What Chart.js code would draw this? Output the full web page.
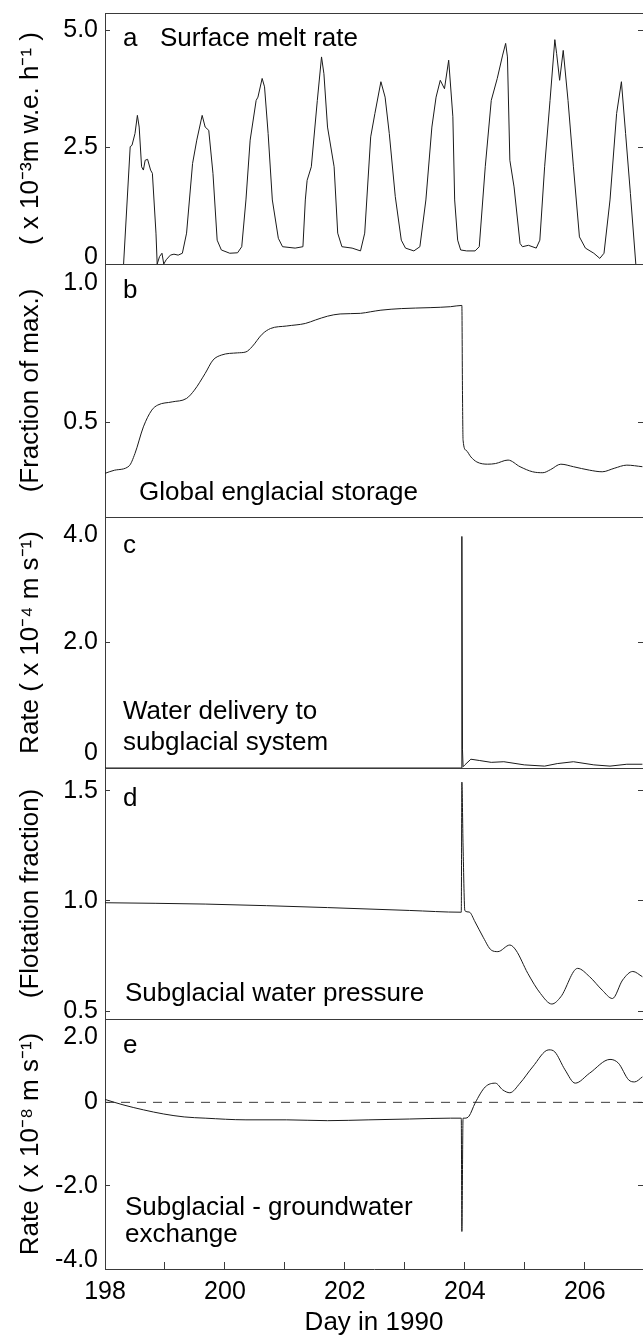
<!DOCTYPE html>
<html>
<head>
<meta charset="utf-8">
<script src="https://cdn.jsdelivr.net/npm/chart.js@4"></script>
<style>
  html, body { margin: 0; padding: 0; background: #fff; overflow: hidden; }
  #fig { position: relative; width: 643px; height: 1337px; }
  #fig canvas { position: absolute; left: 0; }
</style>
</head>
<body>
<div id="fig">
  <canvas id="panelA" width="643" height="284" style="top:0px;width:643px;height:284px"></canvas>
  <canvas id="panelB" width="643" height="293" style="top:244px;width:643px;height:293px"></canvas>
  <canvas id="panelC" width="643" height="291" style="top:497px;width:643px;height:291px"></canvas>
  <canvas id="panelD" width="643" height="291" style="top:748px;width:643px;height:291px"></canvas>
  <canvas id="panelE" width="643" height="338" style="top:999px;width:643px;height:338px"></canvas>
</div>
<script>
// ---- data (day of year 1990) ----
const dayTicks = [198, 199, 200, 201, 202, 203, 204, 205, 206];

// a: surface melt rate (x 10^-3 m w.e. h^-1)
const meltDay = [198.31,198.42,198.45,198.5,198.54,198.57,198.61,198.64,198.67,198.71,
  198.76,198.79,198.85,198.87,198.91,198.95,198.98,199.02,199.09,199.15,
  199.22,199.29,199.36,199.46,199.53,199.62,199.67,199.73,199.8,199.87,
  199.94,200.08,200.21,200.28,200.35,200.42,200.52,200.55,200.62,200.66,
  200.72,200.79,200.89,200.96,201.17,201.3,201.34,201.37,201.44,201.54,
  201.61,201.65,201.71,201.82,201.88,201.95,202.12,202.26,202.33,202.43,
  202.5,202.6,202.67,202.74,202.84,202.94,203.01,203.15,203.25,203.35,
  203.45,203.52,203.59,203.66,203.73,203.8,203.83,203.88,203.93,204.03,
  204.17,204.24,204.34,204.44,204.54,204.63,204.68,204.71,204.75,204.82,
  204.92,204.96,205.06,205.19,205.25,205.33,205.42,205.5,205.53,205.58,
  205.64,205.72,205.81,205.91,206.01,206.15,206.25,206.32,206.42,206.53,
  206.61,206.68,206.76,206.85];
const meltRate = [0,2.51,2.54,2.79,3.18,2.93,2.08,2.01,2.22,2.24,
  2.01,1.94,0.66,0,0.16,0.23,0,0.09,0.19,0.21,
  0.19,0.23,0.66,2.15,2.65,3.18,2.93,2.86,1.94,0.51,
  0.3,0.23,0.24,0.37,1.37,2.65,3.5,3.57,3.97,3.79,
  2.79,1.37,0.55,0.37,0.34,0.37,1.37,1.79,2.08,3.5,
  4.43,4.07,2.93,2.08,0.66,0.37,0.34,0.28,0.66,2.72,
  3.22,3.9,3.57,2.79,1.44,0.51,0.34,0.28,0.37,1.37,
  2.93,3.57,3.93,3.75,4.36,3.15,1.37,0.51,0.3,0.28,
  0.28,0.37,2.08,3.5,3.97,4.47,4.72,4.43,2.22,1.65,
  0.44,0.37,0.4,0.34,0.51,2.08,3.5,4.8,4.5,3.93,
  4.57,3.5,2.08,0.58,0.34,0.23,0.12,0.23,1.37,3.22,
  3.9,2.79,1.51,0];

// b: global englacial storage (fraction of max.)
const storageDay = [198,198.16,198.4,198.5,198.64,198.78,198.88,199.12,199.36,199.49,
  199.67,199.8,199.94,200.21,200.35,200.45,200.62,200.76,201.03,201.34,
  201.51,201.71,201.92,202.26,202.43,202.6,202.94,203.42,203.76,203.95,
  203.96,203.97,204.02,204.1,204.2,204.38,204.51,204.72,204.92,205.13,
  205.3,205.43,205.6,205.81,206.08,206.29,206.49,206.7,206.96];
const storageFrac = [0.338,0.348,0.361,0.401,0.485,0.538,0.554,0.564,0.575,0.601,
  0.654,0.696,0.712,0.719,0.722,0.738,0.778,0.796,0.804,0.812,
  0.823,0.835,0.842,0.844,0.849,0.854,0.859,0.862,0.865,0.869,
  0.6,0.443,0.411,0.39,0.374,0.367,0.369,0.38,0.359,0.343,
  0.34,0.35,0.367,0.359,0.348,0.343,0.354,0.364,0.359];

// c: water delivery to subglacial system (x 10^-4 m s^-1)
const deliveryDay = [198,203.94,203.95,203.96,203.97,204.0,204.1,204.24,204.44,204.65,
  204.99,205.33,205.54,205.81,206.15,206.42,206.7,206.96];
const deliveryRate = [0,0,3.69,0.3,0.02,0.05,0.14,0.12,0.09,0.1,
  0.05,0.03,0.07,0.1,0.05,0.03,0.06,0.06];

// d: subglacial water pressure (flotation fraction)
const pressureDay = [198,199.67,201.71,203.08,203.94,203.95,203.97,204.0,204.07,204.17,
  204.31,204.44,204.55,204.75,204.85,205.05,205.26,205.45,205.6,205.88,
  206.08,206.29,206.46,206.63,206.8,206.96];
const pressureFrac = [0.992,0.986,0.97,0.957,0.949,1.54,1.25,0.956,0.95,0.905,
  0.833,0.777,0.77,0.8,0.777,0.671,0.58,0.532,0.565,0.694,
  0.656,0.595,0.557,0.641,0.68,0.656];

// e: subglacial - groundwater exchange (x 10^-8 m s^-1)
const exchangeDay = [198,198.3,198.64,198.98,199.32,199.67,200.35,201.03,201.71,202.4,
  203.08,203.76,203.94,203.95,203.97,204.0,204.07,204.17,204.34,204.51,
  204.63,204.75,204.92,205.13,205.4,205.5,205.67,205.84,206.08,206.42,
  206.56,206.73,206.83,206.96];
const exchangeRate = [0.07,-0.06,-0.18,-0.28,-0.35,-0.38,-0.42,-0.42,-0.44,-0.42,
  -0.4,-0.38,-0.38,-3.1,-0.38,-0.38,-0.33,-0.02,0.37,0.46,
  0.3,0.23,0.46,0.85,1.26,1.21,0.78,0.46,0.7,1.03,
  0.94,0.54,0.49,0.61];
const zeroDay = [198, 206.97];
const zeroLine = [0, 0];

// ---- styling ----
Chart.defaults.font.family = '"Liberation Sans", Arial, Helvetica, sans-serif';
Chart.defaults.color = '#000';
const INK = '#1a1a1a';
const AXIS = '#3a3a3a';
const X_MIN = 198, X_MAX = 206.97;

function pts(xs, ys) { return xs.map((x, i) => ({ x: x, y: ys[i] })); }

function crisp(v) { return Math.round(v - 0.5) + 0.5; }

// top/bottom frame lines, inward ticks on the right edge, panel captions
const frame = {
  id: 'frame',
  afterDraw(chart, args, opts) {
    const { ctx, chartArea: a } = chart;
    const ys = chart.scales.y;
    ctx.save();
    ctx.strokeStyle = AXIS;
    ctx.lineWidth = 1;
    ctx.beginPath();
    ctx.moveTo(a.left, crisp(a.top));
    ctx.lineTo(a.right, crisp(a.top));
    if (opts.bottom) {
      ctx.moveTo(a.left, crisp(a.bottom));
      ctx.lineTo(a.right, crisp(a.bottom));
    }
    ys.ticks.forEach(t => {
      const y = crisp(ys.getPixelForValue(t.value));
      ctx.moveTo(a.right - 5, y);
      ctx.lineTo(a.right, y);
    });
    ctx.stroke();
    ctx.fillStyle = '#000';
    ctx.font = '26px "Liberation Sans", Arial, sans-serif';
    ctx.textBaseline = 'alphabetic';
    (opts.notes || []).forEach(n => ctx.fillText(n.text, a.left + n.dx, a.top + n.dy));
    ctx.restore();
  }
};

function fmt(v) { return v === 0 ? '0' : v.toFixed(1); }

function panel(id, cfg) {
  const y = cfg.y;
  return new Chart(document.getElementById(id), {
    type: 'line',
    data: { datasets: cfg.datasets },
    options: {
      responsive: false,
      animation: false,
      devicePixelRatio: 1,
      layout: { padding: { top: cfg.padTop, bottom: cfg.padBottom, left: 0, right: 0 } },
      elements: {
        point: { radius: 0 },
        line: { borderWidth: 1, borderColor: INK, fill: false }
      },
      plugins: {
        legend: { display: false },
        tooltip: { enabled: false },
        frame: { bottom: !cfg.xAxis, notes: cfg.notes }
      },
      scales: {
        x: {
          type: 'linear', min: X_MIN, max: X_MAX,
          display: !!cfg.xAxis,
          afterBuildTicks: s => { s.ticks = dayTicks.map(v => ({ value: v })); },
          afterFit: s => {
            if (!cfg.xAxis) return;
            s.height = 68; s.paddingLeft = 0; s.paddingRight = 0;
          },
          grid: { drawOnChartArea: false, tickLength: -7, color: AXIS },
          border: { color: AXIS },
          ticks: {
            autoSkip: false, maxRotation: 0, padding: 15,
            font: { size: 25 },
            callback: v => (v % 2 === 0 ? String(v) : '')
          },
          title: { display: true, text: 'Day in 1990', font: { size: 26, lineHeight: 1.1 }, padding: 0 }
        },
        y: {
          type: 'linear', min: y.min, max: y.max,
          afterBuildTicks: s => { s.ticks = y.ticks.map(v => ({ value: v })); },
          afterFit: s => { s.width = 105; s.paddingTop = 0; s.paddingBottom = 0; },
          grid: { drawOnChartArea: false, tickLength: -5, color: AXIS },
          border: { color: AXIS },
          ticks: {
            autoSkip: false, padding: 12,
            font: ctx => {
              const v = ctx.tick ? ctx.tick.value : null;
              let lh = 1.2;
              if (v === y.max && y.topShift) lh = (2 * y.topShift) / 25;
              if (v === y.min && y.bottomShift) lh = (2 * y.bottomShift) / 25;
              return { size: 25, lineHeight: lh };
            },
            // labels sitting on the frame are nudged inside, as in the print
            callback: v => {
              if (v === y.max && y.topShift) return ['', fmt(v)];
              if (v === y.min && y.bottomShift) return [fmt(v), ''];
              return fmt(v);
            }
          },
          title: { display: true, text: y.title, font: { size: 26 }, padding: { top: 15, bottom: 0 } }
        }
      }
    },
    plugins: [frame]
  });
}

panel('panelA', {
  padTop: 13, padBottom: 20,
  y: { min: 0, max: 5.37, ticks: [0, 2.5, 5.0], bottomShift: 7, title: '( x 10\u207B\u00B3m w.e. h\u207B\u00B9 )' },
  datasets: [{ data: pts(meltDay, meltRate), tension: 0 }],
  notes: [{ text: 'a', dx: 18, dy: 33 }, { text: 'Surface melt rate', dx: 55, dy: 33 }]
});

panel('panelB', {
  padTop: 20, padBottom: 20,
  y: { min: 0.2, max: 1.0, ticks: [0.5, 1.0], topShift: 19, title: '(Fraction of max.)' },
  datasets: [{ data: pts(storageDay, storageFrac), cubicInterpolationMode: 'monotone' }],
  notes: [{ text: 'b', dx: 18, dy: 34 }, { text: 'Global englacial storage', dx: 34, dy: 236 }]
});

panel('panelC', {
  padTop: 20, padBottom: 20,
  y: { min: 0, max: 4.0, ticks: [0, 2.0, 4.0], topShift: 18, bottomShift: 15, title: 'Rate ( x 10\u207B\u2074 m s\u207B\u00B9)' },
  datasets: [{ data: pts(deliveryDay, deliveryRate), tension: 0 }],
  notes: [{ text: 'c', dx: 18, dy: 36 }, { text: 'Water delivery to', dx: 18, dy: 202 },
          { text: 'subglacial system', dx: 18, dy: 233 }]
});

panel('panelD', {
  padTop: 20, padBottom: 20,
  y: { min: 0.464, max: 1.604, ticks: [0.5, 1.0, 1.5], title: '(Flotation fraction)' },
  datasets: [{ data: pts(pressureDay, pressureFrac), cubicInterpolationMode: 'monotone' }],
  notes: [{ text: 'd', dx: 18, dy: 38 }, { text: 'Subglacial water pressure', dx: 20, dy: 233 }]
});

panel('panelE', {
  padTop: 20, padBottom: 0, xAxis: true,
  y: { min: -4.0, max: 2.0, ticks: [-4.0, -2.0, 0, 2.0], topShift: 18, bottomShift: 9, title: 'Rate ( x 10\u207B\u2078 m s\u207B\u00B9)' },
  datasets: [
    { data: pts(exchangeDay, exchangeRate), cubicInterpolationMode: 'monotone' },
    { data: pts(zeroDay, zeroLine), borderDash: [9, 7], borderColor: AXIS }
  ],
  notes: [{ text: 'e', dx: 18, dy: 34 }, { text: 'Subglacial - groundwater', dx: 20, dy: 196 },
          { text: 'exchange', dx: 20, dy: 223 }]
});
</script>
</body>
</html>
